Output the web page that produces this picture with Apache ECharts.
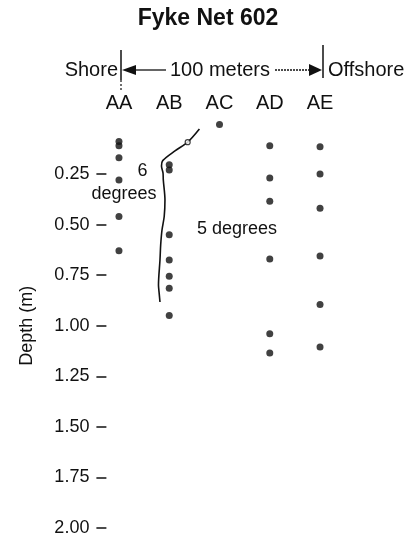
<!DOCTYPE html>
<html><head><meta charset="utf-8">
<script src="https://cdn.jsdelivr.net/npm/echarts@6/dist/echarts.min.js"></script>
<style>html,body{margin:0;padding:0;background:#fff}#c{width:416px;height:545px}</style>
</head><body><div id="c"></div>
<script>
// ---- data ----
const columns = ['AA', 'AB', 'AC', 'AD', 'AE'];
const depthAA = [0.09, 0.11, 0.17, 0.28, 0.46, 0.63];
const depthAB = [0.205, 0.23, 0.55, 0.675, 0.755, 0.815, 0.95];
const depthAC = [0.005];
const depthAD = [0.11, 0.27, 0.385, 0.67, 1.04, 1.135];
const depthAE = [0.115, 0.25, 0.42, 0.655, 0.895, 1.105];
const depthTicks = [0.25, 0.5, 0.75, 1.0, 1.25, 1.5, 1.75, 2.0];
// hand-drawn isotherm boundary (column position, depth)
const boundaryPos   = [2.60, 2.367, 2.114, 1.870, 1.846, 1.876, 1.882, 1.915, 1.900, 1.856, 1.830, 1.816, 1.786, 1.800, 1.816];
const boundaryDepth = [0.028, 0.093, 0.136, 0.184, 0.211, 0.245, 0.280, 0.379, 0.460, 0.527, 0.600, 0.675, 0.799, 0.840, 0.883];
const boundaryMarkPos = [2.367];
const boundaryMarkDepth = [0.093];

const FONT = "'Liberation Sans', Arial, Helvetica, sans-serif";
const depthSets = [depthAA, depthAB, depthAC, depthAD, depthAE];
const points = [];
depthSets.forEach((arr, i) => arr.forEach(d => points.push([i + 1, d])));
const boundary = boundaryPos.map((p, i) => [p, boundaryDepth[i]]);
const marks = boundaryMarkPos.map((p, i) => [p, boundaryMarkDepth[i]]);

const chart = echarts.init(document.getElementById('c'), null, {renderer: 'canvas'});
chart.setOption({
  animation: false,
  backgroundColor: '#fff',
  title: {
    text: 'Fyke Net 602', left: 'center', top: 2,
    textStyle: {fontFamily: FONT, fontSize: 23, fontWeight: 'bold', color: '#111'}
  },
  grid: {left: 106.4, right: 83.4, top: 123.4, bottom: 17},
  xAxis: {
    type: 'value', position: 'top', min: 0.75, max: 5.25,
    axisLine: {show: false}, axisTick: {show: false}, splitLine: {show: false},
    axisLabel: {
      customValues: [1, 2, 3, 4, 5], margin: 10,
      formatter: v => columns[Math.round(v) - 1] || '',
      fontFamily: FONT, fontSize: 20, color: '#111'
    }
  },
  yAxis: {
    type: 'value', inverse: true, min: 0, max: 2, interval: 0.25,
    name: 'Depth (m)', nameLocation: 'middle', nameGap: 70,
    nameTextStyle: {fontFamily: FONT, fontSize: 18, color: '#111'},
    axisLine: {show: false}, splitLine: {show: false},
    axisTick: {show: true, length: 10, customValues: depthTicks, lineStyle: {color: '#111', width: 1.5}},
    axisLabel: {
      customValues: depthTicks, margin: 17,
      formatter: v => v.toFixed(2),
      fontFamily: FONT, fontSize: 18, color: '#111'
    }
  },
  series: [
    {
      type: 'line', data: boundary, smooth: 0.3, symbol: 'none', clip: false,
      lineStyle: {color: '#111', width: 1.6}, z: 2
    },
    {
      type: 'scatter', data: marks, symbol: 'circle', symbolSize: 5, clip: false,
      itemStyle: {color: '#fff', borderColor: '#111', borderWidth: 1.2}, z: 3
    },
    {
      type: 'scatter', data: points, symbolSize: 7, clip: false,
      itemStyle: {color: '#111'}, z: 4
    }
  ],
  graphic: [
    {type: 'text', left: null, x: 142.5, y: 171.5, style: {text: '6', font: '18px ' + FONT, fill: '#111', align: 'center', verticalAlign: 'middle'}},
    {type: 'text', x: 124, y: 194, style: {text: 'degrees', font: '18px ' + FONT, fill: '#111', align: 'center', verticalAlign: 'middle'}},
    {type: 'text', x: 237, y: 229, style: {text: '5 degrees', font: '18px ' + FONT, fill: '#111', align: 'center', verticalAlign: 'middle'}},
    {type: 'text', x: 118, y: 70, style: {text: 'Shore', font: '20px ' + FONT, fill: '#111', align: 'right', verticalAlign: 'middle'}},
    {type: 'text', x: 220, y: 70, style: {text: '100 meters', font: '20px ' + FONT, fill: '#111', align: 'center', verticalAlign: 'middle'}},
    {type: 'text', x: 328, y: 70, style: {text: 'Offshore', font: '20px ' + FONT, fill: '#111', align: 'left', verticalAlign: 'middle'}},
    {type: 'line', shape: {x1: 121, y1: 50, x2: 121, y2: 80}, style: {stroke: '#111', lineWidth: 1.5}},
    {type: 'line', shape: {x1: 121, y1: 80, x2: 121, y2: 92}, style: {stroke: '#111', lineWidth: 1.2, lineDash: [2, 2]}},
    {type: 'line', shape: {x1: 323, y1: 45, x2: 323, y2: 78}, style: {stroke: '#111', lineWidth: 1.5}},
    {type: 'polygon', shape: {points: [[122, 70], [136, 65], [136, 75]]}, style: {fill: '#111'}},
    {type: 'line', shape: {x1: 136, y1: 70, x2: 166, y2: 70}, style: {stroke: '#111', lineWidth: 1.3}},
    {type: 'line', shape: {x1: 275, y1: 70, x2: 309, y2: 70}, style: {stroke: '#111', lineWidth: 1.3, lineDash: [2, 1]}},
    {type: 'polygon', shape: {points: [[322, 70], [309, 64], [309, 76]]}, style: {fill: '#111'}}
  ]
});
</script></body></html>
